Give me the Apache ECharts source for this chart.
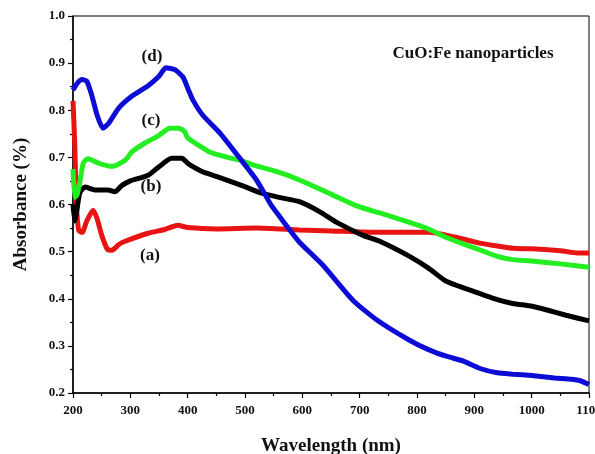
<!DOCTYPE html>
<html>
<head>
<meta charset="utf-8">
<script src="https://cdn.jsdelivr.net/npm/echarts@6/dist/echarts.min.js"></script>
<style>
  html, body { margin: 0; padding: 0; background: #fff; }
  #chart { width: 595px; height: 454px; }
</style>
</head>
<body>
<div id="chart"></div>
<script>
// ---- data ----
const xTicks = [200, 300, 400, 500, 600, 700, 800, 900, 1000, 1100];
const yTicks = [0.2, 0.3, 0.4, 0.5, 0.6, 0.7, 0.8, 0.9, 1.0];

const seriesNames = ['(a)', '(b)', '(c)', '(d)'];

const wlA = [200, 203, 206, 210, 216, 224, 235, 242, 250, 260, 268, 280, 291, 331, 360, 383, 400, 450, 520, 595, 650, 735, 787, 822, 851, 880, 909, 940, 967, 1000, 1050, 1080, 1100];
const absA = [0.82, 0.73, 0.60, 0.545, 0.541, 0.565, 0.588, 0.57, 0.535, 0.505, 0.503, 0.515, 0.522, 0.539, 0.547, 0.556, 0.551, 0.548, 0.55, 0.546, 0.544, 0.541, 0.541, 0.541, 0.535, 0.527, 0.518, 0.512, 0.507, 0.506, 0.502, 0.497, 0.497];

const wlB = [200, 203, 207, 212, 221, 238, 261, 273, 285, 300, 331, 350, 372, 390, 398, 404, 425, 444, 461, 495, 529, 560, 595, 630, 660, 705, 735, 787, 820, 851, 900, 940, 967, 1001, 1030, 1060, 1100];
const absB = [0.60, 0.565, 0.59, 0.625, 0.637, 0.631, 0.631, 0.627, 0.64, 0.65, 0.662, 0.68, 0.698, 0.698, 0.69, 0.684, 0.67, 0.662, 0.655, 0.64, 0.624, 0.615, 0.606, 0.585, 0.562, 0.535, 0.522, 0.49, 0.465, 0.437, 0.415, 0.398, 0.39, 0.384, 0.375, 0.365, 0.353];

const wlC = [200, 203, 207, 212, 218, 226, 244, 268, 291, 303, 325, 348, 369, 385, 395, 400, 420, 439, 470, 491, 520, 560, 595, 650, 695, 735, 787, 820, 851, 900, 940, 967, 1000, 1050, 1100];
const absC = [0.675, 0.615, 0.62, 0.648, 0.688, 0.697, 0.688, 0.681, 0.694, 0.712, 0.73, 0.745, 0.762, 0.762, 0.754, 0.741, 0.725, 0.711, 0.70, 0.694, 0.682, 0.668, 0.652, 0.622, 0.597, 0.582, 0.562, 0.548, 0.53, 0.508, 0.49, 0.483, 0.48, 0.474, 0.467];

const wlD = [200, 208, 216, 224, 232, 242, 252, 262, 280, 303, 331, 350, 362, 378, 392, 400, 409, 426, 456, 491, 520, 545, 560, 578, 595, 636, 688, 730, 787, 820, 851, 880, 910, 940, 967, 1000, 1040, 1070, 1085, 1100];
const absD = [0.843, 0.858, 0.865, 0.862, 0.835, 0.79, 0.762, 0.772, 0.805, 0.83, 0.852, 0.872, 0.89, 0.886, 0.87, 0.847, 0.822, 0.79, 0.752, 0.698, 0.652, 0.60, 0.575, 0.546, 0.52, 0.471, 0.397, 0.355, 0.312, 0.292, 0.278, 0.268, 0.252, 0.243, 0.24, 0.237, 0.232, 0.229, 0.226, 0.218];

const colors = ['#e81414', '#000000', '#22ee22', '#0c0cd6'];
// -----------------------------------------------

function pairs(xs, ys) { return xs.map((x, i) => [x, ys[i]]); }
const allData = [pairs(wlA, absA), pairs(wlB, absB), pairs(wlC, absC), pairs(wlD, absD)];

const serif = '"Liberation Serif", "Times New Roman", serif';
const chart = echarts.init(document.getElementById('chart'), null, { renderer: 'canvas' });

const labelStyle = (t, x, y, size) => ({
  type: 'text', x: x, y: y,
  style: { text: t, font: 'bold ' + size + 'px ' + serif, fill: '#111', textAlign: 'center', textVerticalAlign: 'middle' }
});

const option = {
  animation: false,
  backgroundColor: '#ffffff',
  grid: { left: 73, right: 6, top: 16, bottom: 61, containLabel: false, outerBoundsMode: 'none',
    show: true, borderColor: '#000', borderWidth: 1, backgroundColor: 'transparent' },
  xAxis: {
    type: 'value', min: xTicks[0], max: xTicks[xTicks.length - 1], interval: 100,
    name: 'Wavelength (nm)', nameLocation: 'middle', nameGap: 44,
    nameTextStyle: { fontFamily: serif, fontWeight: 'bold', fontSize: 19, color: '#111' },
    axisLine: { lineStyle: { color: '#000', width: 1.5 } },
    axisTick: { inside: false, length: 5, lineStyle: { color: '#000', width: 1.2 } },
    minorTick: { show: true, splitNumber: 2, length: 3, lineStyle: { color: '#000', width: 1.2 } },
    axisLabel: { fontFamily: serif, fontWeight: 'bold', fontSize: 13, color: '#111', margin: 11,
      showMaxLabel: true, formatter: v => String(v) },
    splitLine: { show: false }
  },
  yAxis: {
    type: 'value', min: yTicks[0], max: yTicks[yTicks.length - 1], interval: 0.1,
    name: 'Absorbance (%)', nameLocation: 'middle', nameGap: 42,
    nameTextStyle: { fontFamily: serif, fontWeight: 'bold', fontSize: 19, color: '#111' },
    axisLine: { lineStyle: { color: '#000', width: 1.5 } },
    axisTick: { inside: false, length: 5, lineStyle: { color: '#000', width: 1.2 } },
    minorTick: { show: true, splitNumber: 2, length: 3, lineStyle: { color: '#000', width: 1.2 } },
    axisLabel: { fontFamily: serif, fontWeight: 'bold', fontSize: 13, color: '#111', margin: 8,
      formatter: v => v.toFixed(1) },
    splitLine: { show: false }
  },
  series: allData.map((d, i) => ({
    name: seriesNames[i], type: 'line', data: d, showSymbol: false,
    smooth: 0.2,
    lineStyle: { color: colors[i], width: 5 }, z: 2 + i
  })),
  graphic: [
    labelStyle('(d)', 152, 57, 17),
    labelStyle('(c)', 151, 121, 17),
    labelStyle('(b)', 151, 187, 17),
    labelStyle('(a)', 150, 256, 17),
    labelStyle('CuO:Fe nanoparticles', 473, 54, 17)
  ]
};
chart.setOption(option);
</script>
</body>
</html>
